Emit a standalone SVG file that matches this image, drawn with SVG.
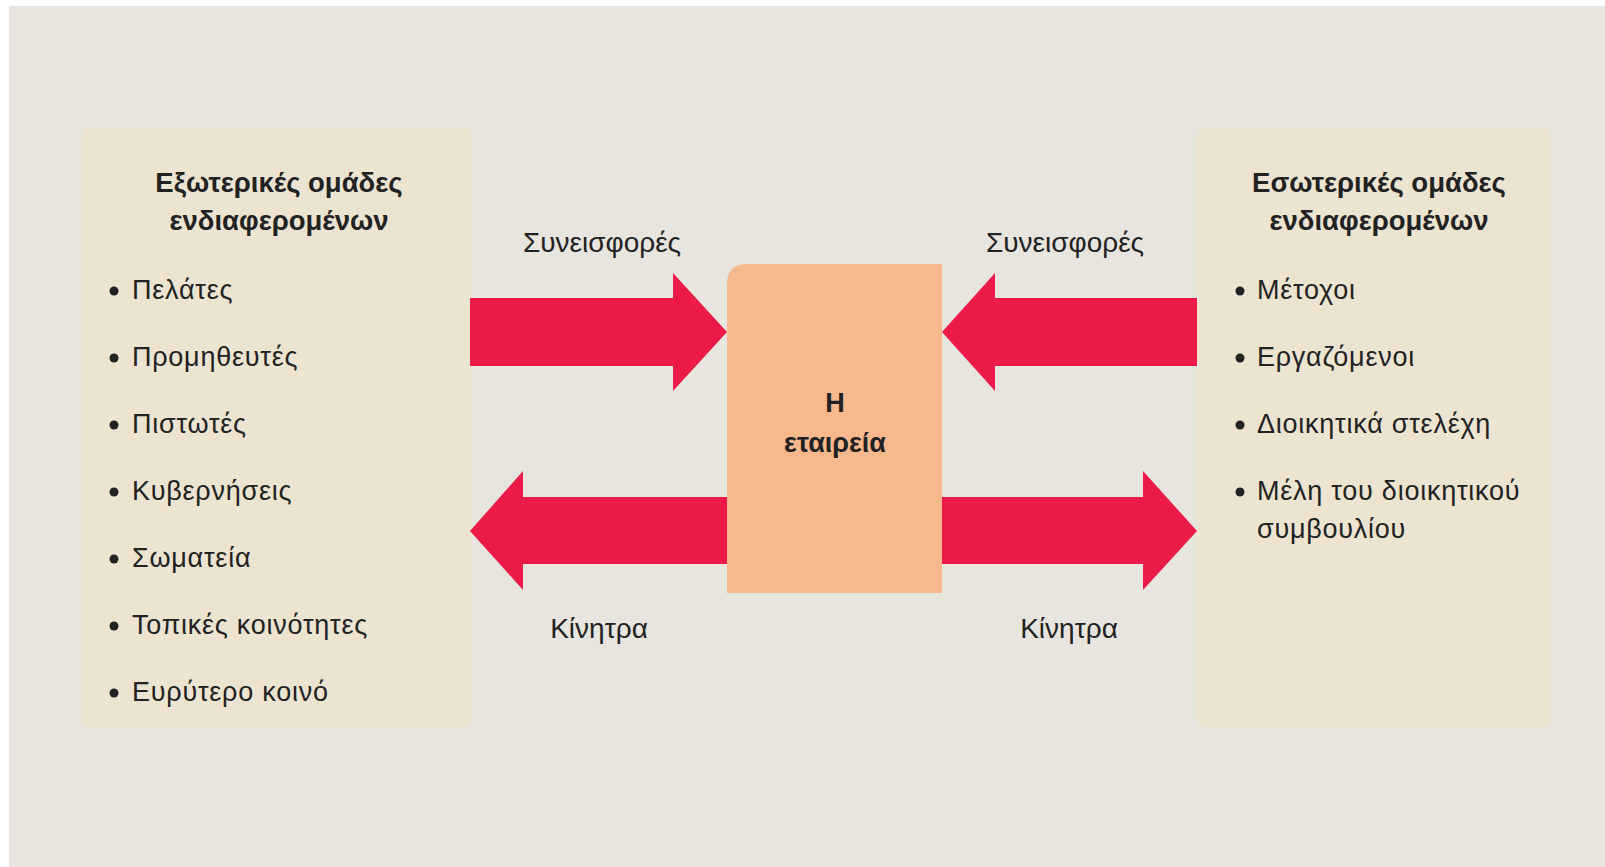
<svg xmlns="http://www.w3.org/2000/svg" width="1605" height="867" viewBox="0 0 1605 867">
  <defs>
    <style>
      .bg { fill: #E7E5DE; }
      .panel { fill: #ECE4D1; }
      .core { fill: #F8B88E; }
      .arrow { fill: #EC1A48; }
      text { font-family: "Liberation Sans", Arial, sans-serif; fill: #222222; }
      .title { font-size: 27.5px; font-weight: bold; text-anchor: middle; }
      .item { font-size: 27px; letter-spacing: 0.75px; }
      .label { font-size: 28px; text-anchor: middle; }
      .core-text { font-size: 27px; font-weight: bold; text-anchor: middle; }
      .dot { fill: #222222; }
    </style>
  </defs>
  <rect x="0" y="0" width="1605" height="867" fill="#FFFFFF"/>
  <rect class="bg" x="9" y="6" width="1596" height="861"/>

  <g id="external-stakeholders">
    <rect class="panel" x="82" y="128" width="389" height="599" rx="6"/>
    <text class="title" x="279" y="192">Εξωτερικές ομάδες</text>
    <text class="title" x="279" y="230">ενδιαφερομένων</text>
    <circle class="dot" cx="114" cy="291" r="4.5"/>
    <text class="item" x="132" y="299">Πελάτες</text>
    <circle class="dot" cx="114" cy="358" r="4.5"/>
    <text class="item" x="132" y="366">Προμηθευτές</text>
    <circle class="dot" cx="114" cy="425" r="4.5"/>
    <text class="item" x="132" y="433">Πιστωτές</text>
    <circle class="dot" cx="114" cy="492" r="4.5"/>
    <text class="item" x="132" y="500">Κυβερνήσεις</text>
    <circle class="dot" cx="114" cy="559" r="4.5"/>
    <text class="item" x="132" y="567">Σωματεία</text>
    <circle class="dot" cx="114" cy="626" r="4.5"/>
    <text class="item" x="132" y="634">Τοπικές κοινότητες</text>
    <circle class="dot" cx="114" cy="693" r="4.5"/>
    <text class="item" x="132" y="701">Ευρύτερο κοινό</text>
  </g>

  <g id="internal-stakeholders">
    <rect class="panel" x="1197" y="128" width="353" height="599" rx="6"/>
    <text class="title" x="1379" y="192">Εσωτερικές ομάδες</text>
    <text class="title" x="1379" y="230">ενδιαφερομένων</text>
    <circle class="dot" cx="1240" cy="291" r="4.5"/>
    <text class="item" x="1257" y="299">Μέτοχοι</text>
    <circle class="dot" cx="1240" cy="358" r="4.5"/>
    <text class="item" x="1257" y="366">Εργαζόμενοι</text>
    <circle class="dot" cx="1240" cy="425" r="4.5"/>
    <text class="item" x="1257" y="433">Διοικητικά στελέχη</text>
    <circle class="dot" cx="1240" cy="492" r="4.5"/>
    <text class="item" x="1257" y="500">Μέλη του διοικητικού</text>
    <text class="item" x="1257" y="538">συμβουλίου</text>
  </g>

  <g id="company">
    <path class="core" d="M747,264 H942 V593 H727 V284 Q727,264 747,264 Z"/>
    <text class="core-text" x="835" y="412">Η</text>
    <text class="core-text" x="835" y="452">εταιρεία</text>
  </g>

  <g id="connectors">
    <polygon class="arrow" points="470,298 673,298 673,273 727,332 673,391 673,366 470,366"/>
    <polygon class="arrow" points="1197,298 995,298 995,273 942,332 995,391 995,366 1197,366"/>
    <polygon class="arrow" points="727,497 523,497 523,471 470,531 523,590 523,564 727,564"/>
    <polygon class="arrow" points="942,497 1143,497 1143,471 1197,531 1143,590 1143,564 942,564"/>
    <text class="label" x="602" y="252">Συνεισφορές</text>
    <text class="label" x="1065" y="252">Συνεισφορές</text>
    <text class="label" x="599" y="638">Κίνητρα</text>
    <text class="label" x="1069" y="638">Κίνητρα</text>
  </g>
</svg>
